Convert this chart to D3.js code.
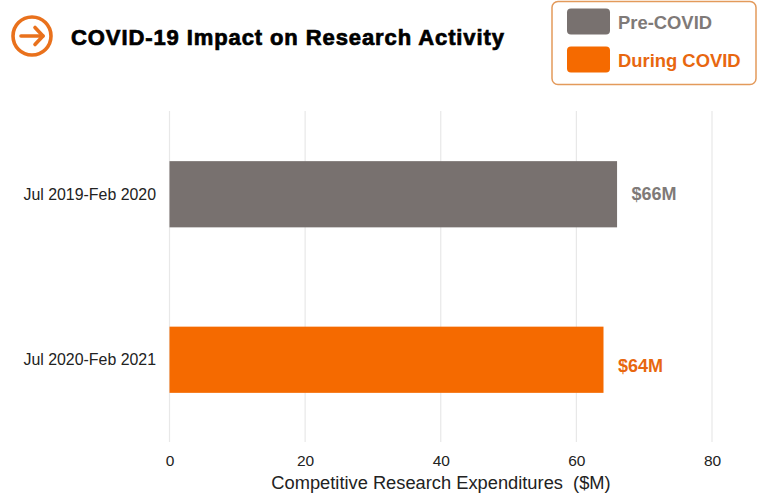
<!DOCTYPE html>
<html>
<head>
<meta charset="utf-8">
<script src="https://cdn.jsdelivr.net/npm/d3@7"></script>
<style>
html,body{margin:0;padding:0;background:#fff}
svg{display:block}
text{font-family:"Liberation Sans",Arial,sans-serif}
</style>
</head>
<body>
<svg id="chart" width="760" height="495"></svg>
<script>
// Competitive research expenditures by period, $M
const periods = ["Jul 2019-Feb 2020", "Jul 2020-Feb 2021"];
const expenditures = [66, 64];
const valueLabels = ["$66M", "$64M"];
const legendLabels = ["Pre-COVID", "During COVID"];
const barColors = ["#78716f", "#f56a00"];
const labelColors = ["#7f7a78", "#e8670f"];
const xTicks = [0, 20, 40, 60, 80];
const titleText = "COVID-19 Impact on Research Activity";
const axisTitle = "Competitive Research Expenditures  ($M)";

const svg = d3.select("#chart");
const ORANGE = "#e9711c";

const x = d3.scaleLinear().domain([0, 80]).range([169.5, 712]);
const y = d3.scaleBand().domain(periods).range([111.5, 442.5]).paddingInner(0.6).paddingOuter(0.3);

// Vertical gridlines
svg.append("g").selectAll("line").data(xTicks).join("line")
  .attr("x1", d => x(d)).attr("x2", d => x(d))
  .attr("y1", 111).attr("y2", 442)
  .attr("stroke", "#e8e8e8").attr("stroke-width", 1.2);

// Value axis tick labels and title
const axis = d3.axisBottom(x).tickValues(xTicks).tickSize(0).tickPadding(0);
const axisG = svg.append("g").attr("transform", "translate(0,455)").call(axis);
axisG.select(".domain").remove();
axisG.selectAll("text").attr("font-size", 15.5).attr("fill", "#222")
  .style("font-family", '"Liberation Sans",Arial,sans-serif');

svg.append("text").attr("x", 441).attr("y", 489)
  .attr("text-anchor", "middle").attr("font-size", 18.3).attr("fill", "#222")
  .attr("xml:space", "preserve").style("white-space", "pre")
  .text(axisTitle);

// Horizontal bars
svg.append("g").selectAll("rect").data(periods).join("rect")
  .attr("x", x(0))
  .attr("y", d => y(d))
  .attr("width", (d, i) => x(expenditures[i]) - x(0))
  .attr("height", y.bandwidth())
  .attr("fill", (d, i) => barColors[i]);

// Category labels
const categoryDrop = [6, 5];
svg.append("g").selectAll("text").data(periods).join("text")
  .attr("x", 156)
  .attr("y", (d, i) => y(d) + y.bandwidth() / 2 + categoryDrop[i])
  .attr("text-anchor", "end").attr("font-size", 15.9).attr("fill", "#222")
  .text(d => d);

// Value labels at the bar ends; the second sits a little below its bar's centre
const labelDrop = [5.5, 12];
svg.append("g").selectAll("text").data(periods).join("text")
  .attr("x", (d, i) => x(expenditures[i]) + 14.5)
  .attr("y", (d, i) => y(d) + y.bandwidth() / 2 + labelDrop[i])
  .attr("font-size", 18).attr("font-weight", 700)
  .attr("fill", (d, i) => labelColors[i])
  .text((d, i) => valueLabels[i]);

// Circled arrow icon
const icon = svg.append("g").attr("transform", "translate(32,36)")
  .attr("fill", "none").attr("stroke", ORANGE).attr("stroke-width", 3.6)
  .attr("stroke-linecap", "round").attr("stroke-linejoin", "round");
icon.append("circle").attr("r", 19);
icon.append("path").attr("d", d3.line()([[-11, 0], [11, 0]]));
icon.append("path").attr("d", d3.line()([[3, -8.5], [11, 0], [3, 8.5]]));

// Heading
svg.append("text").attr("x", 71).attr("y", 44.5)
  .attr("font-size", 22).attr("font-weight", 700).attr("fill", "#000")
  .attr("stroke", "#000").attr("stroke-width", 0.7)
  .attr("textLength", 433).attr("lengthAdjust", "spacing")
  .text(titleText);

// Legend box
svg.append("rect").attr("x", 552).attr("y", 1.5).attr("width", 204).attr("height", 83)
  .attr("rx", 6).attr("fill", "#fff").attr("stroke", "#e39a5b").attr("stroke-width", 1.5);
const legend = svg.append("g").selectAll("g").data(legendLabels).join("g")
  .attr("transform", (d, i) => `translate(567,${8.5 + i * 38})`);
legend.append("rect").attr("width", 43).attr("height", 26).attr("rx", 4)
  .attr("fill", (d, i) => barColors[i]);
legend.append("text").attr("x", 51).attr("y", 20)
  .attr("font-size", 18.4).attr("font-weight", 700)
  .attr("fill", (d, i) => labelColors[i])
  .text(d => d);
</script>
</body>
</html>
